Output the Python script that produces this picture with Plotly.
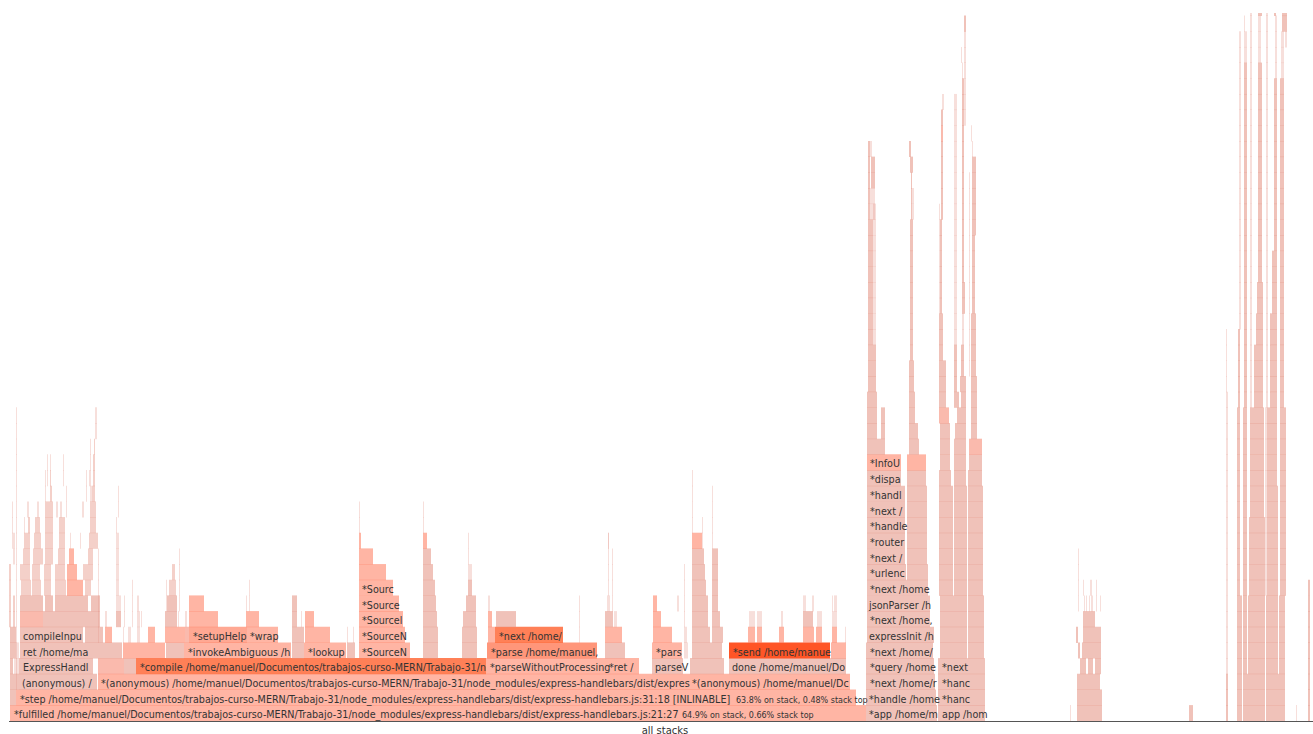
import plotly.graph_objects as go

# Flame graph frames.
# Each tuple: (start sample, end sample, first stack depth, last stack depth + 1, kind)
# kinds: g = optimised/grey, h = pale grey, w = warm grey, s = warm, c = hot, o = hotter, r = hottest, l = faint sliver
BASE_FRAMES = [
    (10,866,0,1,'s'),(866,937,0,1,'g'),(938,985,0,1,'g'),
    (10,16,1,2,'g'),(16,856,1,2,'s'),(866,936,1,2,'g'),(938,985,1,2,'g'),
    (10,19,2,3,'g'),(19,97,2,3,'g'),(98,689,2,3,'s'),(689,850,2,3,'s'),(866,935,2,3,'g'),(938,985,2,3,'g'),
    (10,13,3,4,'g'),(14,19,3,4,'l'),(19,85,3,4,'g'),(85,93,3,4,'g'),(98,124,3,4,'w'),(124,136,3,4,'g'),
    (136,486,3,4,'o'),(486,605,3,4,'s'),(605,639,3,4,'s'),(652,683,3,4,'g'),(690,724,3,4,'g'),(729,846,3,4,'g'),
    (866,934,3,4,'g'),(938,968,3,4,'g'),(968,985,3,4,'g'),
    (10,16,4,5,'g'),(16,19,4,5,'l'),(20,85,4,5,'g'),(85,103,4,5,'g'),(103,122,4,5,'g'),(123,165,4,5,'s'),(166,184,4,5,'g'),
    (184,291,4,5,'s'),(292,304,4,5,'g'),(304,346,4,5,'s'),(347,355,4,5,'g'),(359,410,4,5,'s'),(423,438,4,5,'g'),
    (462,477,4,5,'g'),(487,597,4,5,'c'),(605,625,4,5,'g'),(652,682,4,5,'s'),(684,688,4,5,'l'),(692,722,4,5,'g'),
    (729,830,4,5,'r'),(831,846,4,5,'s'),(866,933,4,5,'g'),(940,953,4,8,'g'),(953,967,4,8,'g'),(968,984,4,8,'g'),
]
MIDDLE_FRAMES = [
    (10,16,5,6,'g'),(20,83,5,6,'g'),(85,103,5,6,'g'),(105,112,5,6,'s'),(123,124,5,6,'l'),(128,131,5,6,'l'),
    (137,140,5,6,'l'),(148,155,5,6,'s'),(165,185,5,6,'s'),(185,189,5,6,'w'),(189,247,5,6,'c2'),(247,278,5,6,'s'),(292,304,5,6,'g'),
    (305,330,5,6,'s'),(347,348,5,6,'l'),(353,354,5,6,'l'),(359,405,5,6,'s'),(423,438,5,6,'g'),(462,477,5,6,'g'),
    (488,495,5,6,'s'),(495,563,5,6,'o'),(605,622,5,6,'s'),(653,672,5,6,'s'),(685,687,5,6,'l'),(692,710,5,6,'g'),(712,723,5,6,'g'),
    (748,755,5,6,'s'),(757,762,5,6,'s'),(779,784,5,6,'s'),(803,814,5,6,'s'),(816,822,5,6,'s'),(832,837,5,6,'s'),(845,846,5,6,'l'),
    (20,43,6,7,'w'),(43,66,6,7,'g'),(66,83,6,7,'g'),(83,86,6,7,'g'),(86,100,6,7,'g'),(105,107,6,7,'l'),(116,121,6,7,'g'),(124,125,6,7,'l'),
    (137,140,6,7,'l'),(141,142,6,7,'l'),(165,177,6,7,'g'),(178,179,6,7,'l'),(185,187,6,7,'l'),
    (189,218,6,7,'s'),(246,259,6,7,'s'),(292,297,6,7,'g'),(301,302,6,7,'l'),(305,314,6,7,'s'),(359,403,6,7,'s'),(423,437,6,7,'g'),
    (463,476,6,7,'g'),(488,492,6,7,'s'),(496,516,6,7,'g'),(605,613,6,7,'g'),(614,617,6,7,'l'),(653,661,6,7,'s'),(692,708,6,7,'g'),(712,720,6,7,'g'),
    (749,755,6,7,'l'),(757,762,6,7,'l'),(781,783,6,7,'l'),(803,813,6,7,'g'),(817,822,6,7,'l'),(832,837,6,7,'l'),
    (20,43,7,8,'g'),(45,53,7,8,'g'),(55,66,7,8,'g'),(66,83,7,8,'g'),(83,88,7,8,'g'),(91,100,7,8,'g'),
    (116,121,7,8,'l'),(124,125,7,8,'l'),(137,139,7,8,'l'),(167,177,7,8,'g'),(189,204,7,8,'s'),(246,247,7,8,'l'),(249,250,7,8,'l'),(292,297,7,8,'g'),
    (359,399,7,8,'s'),(423,436,7,8,'g'),(466,476,7,8,'g'),(488,490,7,8,'l'),(607,610,7,8,'l'),(612,613,7,8,'l'),(653,657,7,8,'s'),(677,679,7,8,'l'),
    (692,708,7,8,'g'),(712,718,7,8,'g'),(803,806,7,8,'l'),(812,814,7,8,'l'),(832,833,7,8,'l'),(834,837,7,8,'l'),
    (359,393,8,9,'s'),(423,435,8,9,'g'),(468,472,8,9,'g'),(608,609,8,9,'l'),(612,613,8,9,'l'),(692,706,8,9,'g'),(712,718,8,9,'g'),
    (359,386,9,10,'s'),(423,433,9,10,'g'),(468,472,9,10,'l'),(608,609,9,10,'l'),(612,613,9,10,'l'),(692,705,9,10,'g'),(712,718,9,10,'g'),
    (359,373,10,11,'s'),(423,431,10,11,'g'),(468,469,10,11,'l'),(684,685,5,10,'l'),(692,704,10,11,'g'),(712,718,10,11,'g'),
    (359,361,11,12,'s'),(423,427,11,12,'s'),(692,702,11,12,'s'),(702,703,11,13,'l'),(608,609,10,12,'l'),(612,613,10,11,'l'),
    (359,360,12,14,'l'),(423,424,12,14,'l'),(692,693,12,16,'l'),(712,713,11,15,'l'),(579,580,5,8,'l'),
]
LEFT_SPIKES = [
    (9,11,6,10,'h'),(13,15,6,8,'h'),(16,17,2,20,'l'),(12,13,11,14,'l'),(13,15,10,12,'l'),
    (21,31,8,9,'h'),(32,41,8,9,'h'),(44,51,8,9,'h'),(55,66,8,9,'h'),(67,83,8,9,'s'),(85,91,8,9,'h'),
    (20,30,9,10,'h'),(32,40,9,10,'h'),(44,51,9,10,'h'),(55,65,9,10,'h'),(67,77,9,10,'s'),(83,93,9,10,'h'),
    (23,30,10,11,'h'),(33,43,10,11,'h'),(45,53,10,11,'h'),(58,65,10,11,'h'),(69,74,10,11,'s'),(88,93,10,11,'h'),
    (24,30,11,12,'h'),(34,41,11,12,'h'),(45,53,11,12,'h'),(59,65,11,12,'h'),(70,71,11,12,'l'),(80,81,11,12,'l'),(89,98,11,12,'h'),
    (24,25,12,13,'l'),(28,30,12,13,'h'),(35,40,12,13,'h'),(45,53,12,13,'h'),(59,65,12,13,'h'),(90,96,12,13,'h'),
    (27,29,13,14,'l'),(37,39,13,14,'l'),(45,53,13,14,'h'),(56,58,13,14,'l'),(60,62,13,14,'l'),(66,67,13,14,'l'),(82,84,13,14,'l'),(90,96,13,14,'h'),
    (45,46,14,15,'l'),(50,52,14,15,'h'),(66,67,14,15,'l'),(86,87,14,15,'l'),(90,92,14,15,'l'),(92,95,14,15,'h'),
    (45,46,15,16,'l'),(47,48,15,16,'l'),(50,51,15,16,'h'),(63,64,15,16,'l'),(86,87,15,16,'l'),(89,91,15,16,'l'),(93,95,15,16,'h'),
    (47,48,16,17,'l'),(50,51,16,17,'l'),(63,64,16,17,'l'),(90,91,16,17,'l'),(93,95,16,17,'h'),
    (90,91,17,18,'l'),(94,95,17,18,'h'),(95,97,18,20,'l'),(98,99,5,11,'l'),
    (116,119,8,11,'l'),(116,119,11,12,'l'),(116,117,12,13,'l'),(118,119,13,15,'l'),(132,133,6,9,'l'),
    (169,176,8,9,'h'),(172,175,9,10,'h'),(166,167,7,9,'l'),(179,180,7,11,'l'),(249,250,8,9,'l'),
]
RIGHT_OF_MID_SPIKES = [
    (468,469,11,12,'l'),(608,609,11,12,'l'),
]
TOWER_A = [
    (867,934,5,6,'g'),(867,930,6,8,'g'),(867,928,8,9,'g'),
    (867,906,9,10,'g'),(907,928,9,10,'g'),(867,905,10,15,'g'),(907,927,10,15,'g'),(867,901,15,16,'g'),(907,926,15,16,'g'),
    (867,901,16,17,'s'),(907,926,16,17,'s'),(867,885,17,18,'g'),(909,919,17,18,'g'),
    (867,877,18,21,'g'),(881,885,18,20,'g'),(909,918,18,19,'g'),(909,915,19,21,'g'),
    (868,876,21,24,'g'),(868,873,24,32,'g'),(873,876,24,33,'l'),(868,870,32,37,'g'),(870,875,32,34,'l'),(871,875,34,36,'g'),(870,872,36,37,'l'),
    (909,914,21,23,'g'),(910,913,23,32,'g'),(912,914,32,34,'l'),(911,912,32,35,'g'),(910,913,35,36,'g'),(909,911,36,37,'g'),
]
TOWER_C = [
    (939,953,8,15,'g'),(939,951,15,16,'g'),(940,950,16,19,'g'),(939,949,19,20,'w'),(939,946,20,23,'g'),(939,943,23,26,'g'),
    (940,942,26,32,'g'),(939,940,26,33,'l'),(941,943,32,37,'g'),(941,943,37,38,'w'),(941,943,38,39,'g'),(942,944,39,40,'l'),
    (954,967,8,15,'g'),(954,966,15,18,'g'),(955,966,18,19,'g'),(957,966,19,20,'g'),(957,959,20,21,'g'),(961,966,20,21,'g'),
    (954,957,20,24,'g'),(954,957,24,40,'l'),(960,966,21,22,'g'),(961,964,22,24,'g'),(962,964,24,26,'l'),(962,965,26,28,'g'),(962,964,28,41,'g'),
    (962,963,41,42,'l'),(961,962,42,43,'l'),(964,966,38,44,'l'),(964,966,44,45,'g'),
    (968,983,8,15,'g'),(968,982,15,16,'g'),(969,982,16,17,'g'),(969,982,17,18,'w'),(971,977,18,22,'g'),(971,976,22,26,'g'),
    (972,975,26,31,'g'),(972,976,31,36,'g'),(972,973,36,37,'l'),(971,972,37,38,'l'),(969,970,22,35,'l'),
]
SMALL_CLUSTER = [
    (1070,1071,0,1,'l'),(1077,1102,0,2,'g'),(1077,1100,2,3,'g'),(1080,1086,3,4,'g'),(1088,1093,3,4,'g'),(1095,1101,3,4,'g'),
    (1078,1080,4,5,'g'),(1082,1094,4,5,'g'),(1094,1101,4,5,'g'),(1076,1078,5,6,'g'),(1083,1094,5,6,'g'),(1094,1101,5,6,'g'),
    (1083,1095,6,7,'g'),(1078,1079,7,8,'l'),(1084,1085,7,8,'l'),(1086,1087,7,8,'l'),(1089,1090,7,8,'l'),(1091,1093,7,8,'l'),(1096,1097,7,8,'l'),(1100,1101,7,8,'l'),
    (1083,1084,8,9,'l'),(1090,1092,8,9,'l'),(1096,1097,8,9,'l'),(1078,1079,8,11,'l'),
    (1189,1193,0,1,'g'),
]
RIGHT_TOWERS = [
    (1226,1228,0,3,'g'),(1226,1228,3,21,'l'),(1226,1227,21,25,'l'),
    (1237,1242,0,8,'g'),(1243,1265,0,3,'g'),(1266,1285,0,3,'g'),(1243,1247,3,8,'g'),(1248,1265,3,8,'g'),(1266,1278,3,8,'g'),(1279,1285,3,8,'g'),
    (1237,1240,8,20,'g'),(1243,1247,8,20,'g'),(1249,1265,8,13,'g'),(1250,1264,13,20,'g'),(1267,1278,8,15,'g'),(1267,1277,15,20,'g'),(1280,1286,8,20,'g'),
    (1265,1267,8,20,'l'),
    (1238,1240,20,25,'g'),(1239,1241,25,44,'l'),(1244,1247,20,42,'g'),(1244,1247,42,44,'l'),(1244,1245,44,45,'l'),
    (1250,1252,20,46,'l'),(1254,1263,20,24,'g'),(1256,1263,24,26,'g'),(1257,1263,26,28,'g'),(1258,1262,28,42,'g'),(1258,1261,42,45,'l'),(1258,1260,45,46,'g'),(1260,1262,45,46,'g'),
    (1266,1268,20,46,'l'),(1270,1277,20,26,'g'),(1272,1277,26,30,'g'),(1274,1277,30,41,'g'),(1275,1277,41,45,'l'),(1274,1276,45,46,'g'),
    (1280,1284,20,41,'g'),(1281,1284,41,44,'l'),(1282,1287,44,46,'g'),(1285,1287,43,44,'l'),
    (1296,1297,0,1,'l'),(1308,1310,0,9,'g'),
]
LABEL_TEXT = [
    "*fulfilled /home/manuel/Documentos/trabajos-curso-MERN/Trabajo-31/node_modules/express-handlebars/dist/express-handlebars.js:21:27",
    "*step /home/manuel/Documentos/trabajos-curso-MERN/Trabajo-31/node_modules/express-handlebars/dist/express-handlebars.js:31:18 [INLINABLE]",
    "(anonymous) /",
    "*(anonymous) /home/manuel/Documentos/trabajos-curso-MERN/Trabajo-31/node_modules/express-handlebars/dist/expres",
    "*(anonymous) /home/manuel/Dc",
    "ExpressHandl","ret /home/ma","compileInpu",
    "*compile /home/manuel/Documentos/trabajos-curso-MERN/Trabajo-31/n",
    "*invokeAmbiguous /h","*lookup","*setupHelp","*wrap",
    "*SourceN","*SourceN","*Sourcel","*Source","*Sourc",
    "*next /home/","*parse /home/manuel,","*parseWithoutProcessing","*ret /","*pars","parseV",
    "*send /home/manue","done /home/manuel/Do",
    "*app /home/m","*handle /home","*next /home/r","*query /home","*next /home/","expressInit /h","*next /home,","jsonParser /h",
    "*next /home","*urlenc","*next /","*router","*handle","*next /","*handl","*dispa","*InfoU",
    "app /hom","*hanc","*hanc","*next",
]
LABEL_X = [14,20,22,101,692,23,23,23,140,188,308,193,250,362,362,362,362,362,499,491,490,609,656,655,733,732,
           869,869,870,870,870,869,870,869,870,870,870,870,870,870,870,870,870,942,942,942,942]
LABEL_DEPTH = [0,1,2,2,2,3,4,5,3,4,4,5,5,4,5,6,7,8,5,4,3,3,4,3,4,3,
               0,1,2,3,4,5,6,7,8,9,10,11,12,13,14,15,16,0,1,2,3]
STAT_TEXT = ["64.9% on stack, 0.66% stack top","63.8% on stack, 0.48% stack top"]
STAT_X = [682,736]
STAT_DEPTH = [0,1]
AXIS_LABEL = "all stacks"
AXIS_LABEL_POS = 665

KIND_COLOR = {
    'g':'rgba(230,150,135,0.58)','h':'rgba(230,150,135,0.45)','w':'rgba(245,130,105,0.55)','s':'rgba(255,120,90,0.55)','c2':'rgba(255,115,80,0.62)',
    'c':'rgba(255,110,70,0.72)','o':'rgba(255,100,50,0.82)','r':'rgba(255,70,20,0.92)','l':'rgba(230,150,135,0.30)',
}

all_frames = BASE_FRAMES+MIDDLE_FRAMES+LEFT_SPIKES+RIGHT_OF_MID_SPIKES+TOWER_A+TOWER_C+SMALL_CLUSTER+RIGHT_TOWERS
bx,bb,by,bc = [],[],[],[]
for x0,x1,d0,d1,k in all_frames:
    for d in range(d0,d1):
        bx.append(x1-x0); bb.append(x0); by.append(d+0.5); bc.append(KIND_COLOR[k])

fig = go.Figure()
fig.add_trace(go.Bar(orientation='h',x=bx,base=bb,y=by,width=1.03,marker=dict(color=bc,line_width=0),hoverinfo='skip'))
fig.add_trace(go.Scatter(x=LABEL_X,y=[d+0.33 for d in LABEL_DEPTH],text=LABEL_TEXT,mode='text',textposition='middle right',
                         textfont=dict(family='DejaVu Sans',size=9.6,color='#333'),hoverinfo='skip'))
fig.add_trace(go.Scatter(x=STAT_X,y=[d+0.3 for d in STAT_DEPTH],text=STAT_TEXT,mode='text',textposition='middle right',
                         textfont=dict(family='DejaVu Sans',size=8,color='#333'),hoverinfo='skip'))
fig.update_layout(width=1313,height=734,margin=dict(l=9,r=0,t=13,b=13,autoexpand=False),barmode='overlay',showlegend=False,
                  plot_bgcolor='white',paper_bgcolor='white')
fig.update_xaxes(range=[9,1313],showgrid=False,zeroline=False,showline=True,linecolor='#555',linewidth=1,automargin=False,
                 tickvals=[AXIS_LABEL_POS],ticktext=[AXIS_LABEL],ticks='',ticklen=0,tickfont=dict(family='DejaVu Sans',size=10,color='#333'))
fig.update_yaxes(range=[0,45.18],showgrid=False,zeroline=False,showticklabels=False,ticks='',automargin=False)
fig.write_html("out.html",post_script="document.body.style.margin='0';document.body.style.overflow='hidden';",config={'displayModeBar':False})
